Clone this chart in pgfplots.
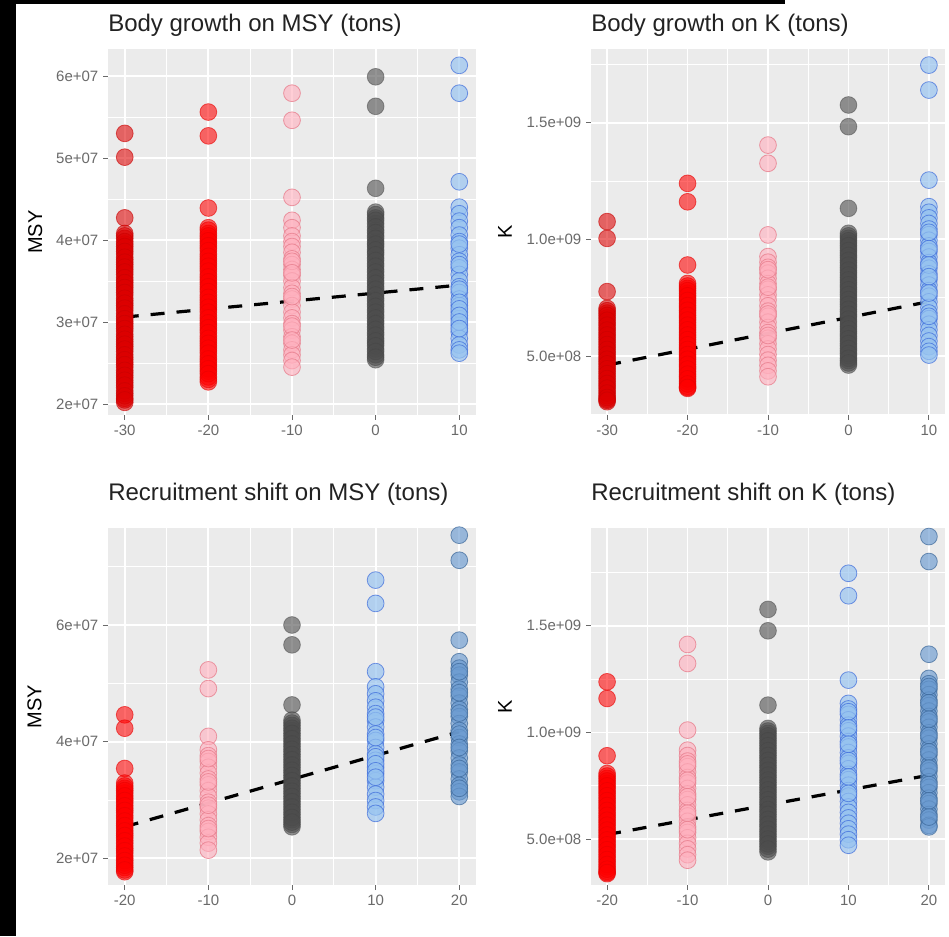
\documentclass[border=0pt]{standalone}
\usepackage{pgfplots}
\pgfplotsset{compat=1.18}
\usepackage{fontspec}
\setmainfont{Liberation Sans}
\definecolor{ggbg}{HTML}{EBEBEB}
\definecolor{tickgrey}{HTML}{6A6A6A}
\definecolor{titlegrey}{HTML}{222222}
\definecolor{redAF}{HTML}{DD0000}
\definecolor{redAL}{HTML}{C80000}
\definecolor{redBF}{HTML}{FF0000}
\definecolor{redBL}{HTML}{E80000}
\definecolor{pinkF}{HTML}{FFB0BE}
\definecolor{pinkL}{HTML}{E8808F}
\definecolor{greyF}{HTML}{4D4D4D}
\definecolor{greyL}{HTML}{454545}
\definecolor{lblueF}{HTML}{96C3F0}
\definecolor{lblueL}{HTML}{3D6BDB}
\definecolor{sblueF}{HTML}{6A9AD0}
\definecolor{sblueL}{HTML}{3B6799}
\pgfplotsset{
  ggpanel/.style={
    scale only axis, anchor=south west,
    axis background/.style={fill=ggbg},
    axis line style={draw=none},
    tick pos=left, tick align=outside,
    major tick length=3.75pt, minor tick length=0pt,
    tick style={color=tickgrey, line width=0.7pt},
    grid=both,
    major grid style={white, line width=1.4pt},
    minor grid style={white, line width=0.7pt},
    scaled ticks=false,
    tick label style={font=\fontsize{11.25}{13}\selectfont, text=tickgrey},
    every axis title/.style={at={(axis description cs:0,1)}, anchor=base west, inner sep=0pt, font=\fontsize{18}{21}\selectfont, text=titlegrey},
    clip=false,
  },
  grpA/.style={only marks, mark=*, mark size=6.3pt, mark options={fill=redAF, fill opacity=0.58, draw=redAL, draw opacity=0.6, line width=0.6pt}},
  grpB/.style={only marks, mark=*, mark size=6.3pt, mark options={fill=redBF, fill opacity=0.58, draw=redBL, draw opacity=0.6, line width=0.6pt}},
  grpP/.style={only marks, mark=*, mark size=6.3pt, mark options={fill=pinkF, fill opacity=0.62, draw=pinkL, draw opacity=0.8, line width=0.6pt}},
  grpG/.style={only marks, mark=*, mark size=6.3pt, mark options={fill=greyF, fill opacity=0.6, draw=greyL, draw opacity=0.5, line width=0.6pt}},
  grpL/.style={only marks, mark=*, mark size=6.3pt, mark options={fill=lblueF, fill opacity=0.68, draw=lblueL, draw opacity=0.7, line width=0.6pt}},
  grpS/.style={only marks, mark=*, mark size=6.3pt, mark options={fill=sblueF, fill opacity=0.65, draw=sblueL, draw opacity=0.7, line width=0.6pt}},
  trend/.style={black, line width=2.4pt, dash pattern=on 10.5pt off 9pt, no marks},
  ylab/.style={every axis y label/.style={at={(axis description cs:#1,0.5)}, rotate=90, anchor=center, font=\fontsize{15}{17}\selectfont, text=black}},
}
\begin{document}
\begin{tikzpicture}[x=1pt,y=1pt]
\fill[white] (0,0) rectangle (711.75,702);
\fill[black] (0,0) rectangle (12,702);
\fill[black] (0,699) rectangle (588.75,702);

% ---------- Panel 1: Body growth on MSY ----------
\begin{axis}[ggpanel, at={(81pt,390.75pt)}, width=276pt, height=274.5pt,
  xmin=-32, xmax=12, ymin=1.866e7, ymax=6.329e7,
  xtick={-30,-20,-10,0,10}, xticklabels={-30,-20,-10,0,10},
  minor xtick={-25,-15,-5,5},
  ytick={2e7,3e7,4e7,5e7,6e7}, yticklabels={2e+07,3e+07,4e+07,5e+07,6e+07},
  minor ytick={2.5e7,3.5e7,4.5e7,5.5e7},
  title={Body growth on MSY (tons)}, title style={yshift=12.75pt},
  ylabel={MSY}, ylab=-0.198]
\addplot[grpA] coordinates {(-30,5.30e7) (-30,5.01e7) (-30,4.27e7) (-30,4.08e7) (-30,4.02e7) (-30,3.95e7) (-30,3.89e7) (-30,3.83e7) (-30,3.76e7) (-30,3.70e7) (-30,3.64e7) (-30,3.58e7) (-30,3.51e7) (-30,3.45e7) (-30,3.39e7) (-30,3.33e7) (-30,3.26e7) (-30,3.20e7) (-30,3.14e7) (-30,3.07e7) (-30,3.01e7) (-30,2.95e7) (-30,2.89e7) (-30,2.82e7) (-30,2.76e7) (-30,2.70e7) (-30,2.64e7) (-30,2.57e7) (-30,2.51e7) (-30,2.45e7) (-30,2.38e7) (-30,2.32e7) (-30,2.26e7) (-30,2.20e7) (-30,2.13e7) (-30,2.07e7) (-30,2.02e7)};
\addplot[grpA] coordinates {(-30,4.05e7) (-30,3.98e7) (-30,3.92e7) (-30,3.86e7) (-30,3.79e7) (-30,3.73e7) (-30,3.67e7) (-30,3.61e7) (-30,3.54e7) (-30,3.48e7) (-30,3.42e7) (-30,3.36e7) (-30,3.29e7) (-30,3.23e7) (-30,3.17e7) (-30,3.10e7) (-30,3.04e7) (-30,2.98e7) (-30,2.92e7) (-30,2.85e7) (-30,2.79e7) (-30,2.73e7) (-30,2.67e7) (-30,2.60e7) (-30,2.54e7) (-30,2.48e7) (-30,2.41e7) (-30,2.35e7) (-30,2.29e7) (-30,2.23e7) (-30,2.16e7) (-30,2.10e7) (-30,2.05e7)};
\addplot[grpB] coordinates {(-20,5.56e7) (-20,5.27e7) (-20,4.39e7) (-20,4.15e7) (-20,4.08e7) (-20,4.02e7) (-20,3.96e7) (-20,3.90e7) (-20,3.83e7) (-20,3.77e7) (-20,3.71e7) (-20,3.65e7) (-20,3.58e7) (-20,3.52e7) (-20,3.46e7) (-20,3.40e7) (-20,3.33e7) (-20,3.27e7) (-20,3.21e7) (-20,3.15e7) (-20,3.08e7) (-20,3.02e7) (-20,2.96e7) (-20,2.90e7) (-20,2.83e7) (-20,2.77e7) (-20,2.71e7) (-20,2.65e7) (-20,2.58e7) (-20,2.52e7) (-20,2.46e7) (-20,2.40e7) (-20,2.33e7) (-20,2.27e7)};
\addplot[grpB] coordinates {(-20,4.12e7) (-20,4.05e7) (-20,3.99e7) (-20,3.93e7) (-20,3.87e7) (-20,3.80e7) (-20,3.74e7) (-20,3.68e7) (-20,3.62e7) (-20,3.55e7) (-20,3.49e7) (-20,3.43e7) (-20,3.37e7) (-20,3.30e7) (-20,3.24e7) (-20,3.18e7) (-20,3.12e7) (-20,3.05e7) (-20,2.99e7) (-20,2.93e7) (-20,2.87e7) (-20,2.80e7) (-20,2.74e7) (-20,2.68e7) (-20,2.62e7) (-20,2.55e7) (-20,2.49e7) (-20,2.43e7) (-20,2.37e7) (-20,2.30e7)};
\addplot[grpP] coordinates {(-10,5.79e7) (-10,5.46e7) (-10,4.52e7) (-10,4.24e7) (-10,4.15e7) (-10,4.05e7) (-10,3.98e7) (-10,3.92e7) (-10,3.85e7) (-10,3.77e7) (-10,3.70e7) (-10,3.64e7) (-10,3.57e7) (-10,3.50e7) (-10,3.42e7) (-10,3.35e7) (-10,3.28e7) (-10,3.20e7) (-10,3.12e7) (-10,3.05e7) (-10,2.98e7) (-10,2.90e7) (-10,2.82e7) (-10,2.74e7) (-10,2.66e7) (-10,2.60e7) (-10,2.53e7) (-10,2.45e7) (-10,3.74e7) (-10,3.60e7) (-10,3.31e7) (-10,2.95e7) (-10,2.78e7)};
\addplot[grpG] coordinates {(0,5.99e7) (0,5.63e7) (0,4.63e7) (0,4.34e7) (0,4.27e7) (0,4.20e7) (0,4.12e7) (0,4.05e7) (0,3.98e7) (0,3.92e7) (0,3.85e7) (0,3.78e7) (0,3.71e7) (0,3.64e7) (0,3.57e7) (0,3.50e7) (0,3.43e7) (0,3.36e7) (0,3.29e7) (0,3.22e7) (0,3.15e7) (0,3.08e7) (0,3.01e7) (0,2.94e7) (0,2.87e7) (0,2.80e7) (0,2.74e7) (0,2.67e7) (0,2.60e7) (0,2.54e7)};
\addplot[grpG] coordinates {(0,4.31e7) (0,4.24e7) (0,4.16e7) (0,4.09e7) (0,4.02e7) (0,3.95e7) (0,3.88e7) (0,3.82e7) (0,3.75e7) (0,3.68e7) (0,3.61e7) (0,3.54e7) (0,3.47e7) (0,3.40e7) (0,3.33e7) (0,3.26e7) (0,3.19e7) (0,3.12e7) (0,3.05e7) (0,2.98e7) (0,2.91e7) (0,2.84e7) (0,2.77e7) (0,2.71e7) (0,2.64e7) (0,2.57e7)};
\addplot[grpL] coordinates {(10,6.13e7) (10,5.79e7) (10,4.71e7) (10,4.40e7) (10,4.32e7) (10,4.23e7) (10,4.15e7) (10,4.06e7) (10,3.98e7) (10,3.90e7) (10,3.82e7) (10,3.74e7) (10,3.66e7) (10,3.58e7) (10,3.50e7) (10,3.43e7) (10,3.36e7) (10,3.28e7) (10,3.20e7) (10,3.12e7) (10,3.04e7) (10,2.96e7) (10,2.88e7) (10,2.80e7) (10,2.72e7) (10,2.66e7) (10,2.62e7) (10,3.95e7) (10,3.70e7) (10,3.40e7) (10,3.24e7) (10,3.16e7) (10,3.08e7) (10,3.00e7) (10,2.92e7)};
\addplot[trend] coordinates {(-30,3.06e7) (10,3.45e7)};
\end{axis}

% ---------- Panel 2: Body growth on K ----------
\begin{axis}[ggpanel, at={(443.25pt,390.75pt)}, width=265.5pt, height=274.5pt,
  xmin=-32, xmax=12, ymin=2.47e8, ymax=1.816e9,
  xtick={-30,-20,-10,0,10}, xticklabels={-30,-20,-10,0,10},
  minor xtick={-25,-15,-5,5},
  ytick={5e8,1e9,1.5e9}, yticklabels={5.0e+08,1.0e+09,1.5e+09},
  minor ytick={2.5e8,7.5e8,1.25e9,1.75e9},
  title={Body growth on K (tons)}, title style={yshift=12.75pt},
  ylabel={K}, ylab=-0.243]
\addplot[grpA] coordinates {(-30,10.76e8) (-30,10.04e8) (-30,7.76e8) (-30,7.04e8) (-30,6.84e8) (-30,6.63e8) (-30,6.42e8) (-30,6.21e8) (-30,6.00e8) (-30,5.80e8) (-30,5.59e8) (-30,5.38e8) (-30,5.17e8) (-30,4.96e8) (-30,4.76e8) (-30,4.55e8) (-30,4.34e8) (-30,4.13e8) (-30,3.92e8) (-30,3.72e8) (-30,3.51e8) (-30,3.30e8) (-30,3.15e8) (-30,3.04e8)};
\addplot[grpA] coordinates {(-30,6.94e8) (-30,6.74e8) (-30,6.53e8) (-30,6.32e8) (-30,6.11e8) (-30,5.90e8) (-30,5.70e8) (-30,5.49e8) (-30,5.28e8) (-30,5.07e8) (-30,4.86e8) (-30,4.66e8) (-30,4.45e8) (-30,4.24e8) (-30,4.03e8) (-30,3.82e8) (-30,3.62e8) (-30,3.41e8) (-30,3.22e8) (-30,3.10e8)};
\addplot[grpB] coordinates {(-20,12.40e8) (-20,11.61e8) (-20,8.90e8) (-20,8.11e8) (-20,7.90e8) (-20,7.69e8) (-20,7.48e8) (-20,7.27e8) (-20,7.06e8) (-20,6.85e8) (-20,6.64e8) (-20,6.43e8) (-20,6.22e8) (-20,6.01e8) (-20,5.80e8) (-20,5.59e8) (-20,5.38e8) (-20,5.17e8) (-20,4.96e8) (-20,4.75e8) (-20,4.54e8) (-20,4.33e8) (-20,4.12e8) (-20,3.91e8) (-20,3.70e8) (-20,3.61e8)};
\addplot[grpB] coordinates {(-20,8.00e8) (-20,7.80e8) (-20,7.58e8) (-20,7.38e8) (-20,7.16e8) (-20,6.96e8) (-20,6.74e8) (-20,6.54e8) (-20,6.32e8) (-20,6.12e8) (-20,5.90e8) (-20,5.70e8) (-20,5.48e8) (-20,5.28e8) (-20,5.06e8) (-20,4.86e8) (-20,4.64e8) (-20,4.44e8) (-20,4.22e8) (-20,4.02e8) (-20,3.80e8) (-20,3.65e8)};
\addplot[grpP] coordinates {(-10,14.04e8) (-10,13.26e8) (-10,10.19e8) (-10,9.26e8) (-10,9.02e8) (-10,8.80e8) (-10,8.55e8) (-10,8.33e8) (-10,8.10e8) (-10,7.86e8) (-10,7.62e8) (-10,7.40e8) (-10,7.15e8) (-10,6.92e8) (-10,6.70e8) (-10,6.45e8) (-10,6.22e8) (-10,6.00e8) (-10,5.76e8) (-10,5.52e8) (-10,5.30e8) (-10,5.06e8) (-10,4.82e8) (-10,4.60e8) (-10,4.36e8) (-10,4.11e8) (-10,8.70e8) (-10,7.95e8) (-10,6.80e8) (-10,5.88e8)};
\addplot[grpG] coordinates {(0,15.76e8) (0,14.83e8) (0,11.33e8) (0,10.26e8) (0,10.05e8) (0,9.84e8) (0,9.63e8) (0,9.42e8) (0,9.21e8) (0,9.00e8) (0,8.79e8) (0,8.58e8) (0,8.37e8) (0,8.16e8) (0,7.95e8) (0,7.74e8) (0,7.53e8) (0,7.32e8) (0,7.11e8) (0,6.90e8) (0,6.69e8) (0,6.48e8) (0,6.27e8) (0,6.06e8) (0,5.85e8) (0,5.64e8) (0,5.43e8) (0,5.22e8) (0,5.01e8) (0,4.80e8) (0,4.61e8)};
\addplot[grpG] coordinates {(0,10.15e8) (0,9.94e8) (0,9.73e8) (0,9.52e8) (0,9.31e8) (0,9.10e8) (0,8.89e8) (0,8.68e8) (0,8.47e8) (0,8.26e8) (0,8.05e8) (0,7.84e8) (0,7.63e8) (0,7.42e8) (0,7.21e8) (0,7.00e8) (0,6.79e8) (0,6.58e8) (0,6.37e8) (0,6.16e8) (0,5.95e8) (0,5.74e8) (0,5.53e8) (0,5.32e8) (0,5.11e8) (0,4.90e8) (0,4.70e8)};
\addplot[grpL] coordinates {(10,17.47e8) (10,16.40e8) (10,12.54e8) (10,11.40e8) (10,11.16e8) (10,10.92e8) (10,10.68e8) (10,10.44e8) (10,10.20e8) (10,9.96e8) (10,9.72e8) (10,9.48e8) (10,9.24e8) (10,9.00e8) (10,8.76e8) (10,8.52e8) (10,8.28e8) (10,8.04e8) (10,7.80e8) (10,7.56e8) (10,7.32e8) (10,7.08e8) (10,6.84e8) (10,6.60e8) (10,6.36e8) (10,6.12e8) (10,5.88e8) (10,5.64e8) (10,5.40e8) (10,5.20e8) (10,5.04e8) (10,10.30e8) (10,9.60e8) (10,8.90e8) (10,8.40e8) (10,7.70e8) (10,6.70e8)};
\addplot[trend] coordinates {(-30,4.61e8) (10,7.33e8)};
\end{axis}

% ---------- Panel 3: Recruitment shift on MSY ----------
\begin{axis}[ggpanel, at={(81pt,38.25pt)}, width=276pt, height=267.75pt,
  xmin=-22, xmax=22, ymin=1.542e7, ymax=7.663e7,
  xtick={-20,-10,0,10,20}, xticklabels={-20,-10,0,10,20},
  minor xtick={-15,-5,5,15},
  ytick={2e7,4e7,6e7}, yticklabels={2e+07,4e+07,6e+07},
  minor ytick={3e7,5e7,7e7},
  title={Recruitment shift on MSY (tons)}, title style={yshift=21pt},
  ylabel={MSY}, ylab=-0.2]
\addplot[grpB] coordinates {(-20,4.46e7) (-20,4.23e7) (-20,3.54e7) (-20,3.29e7) (-20,3.20e7) (-20,3.12e7) (-20,3.03e7) (-20,2.95e7) (-20,2.86e7) (-20,2.78e7) (-20,2.69e7) (-20,2.60e7) (-20,2.52e7) (-20,2.43e7) (-20,2.35e7) (-20,2.26e7) (-20,2.17e7) (-20,2.09e7) (-20,2.00e7) (-20,1.92e7) (-20,1.84e7) (-20,1.77e7)};
\addplot[grpB] coordinates {(-20,3.24e7) (-20,3.16e7) (-20,3.07e7) (-20,2.99e7) (-20,2.90e7) (-20,2.82e7) (-20,2.73e7) (-20,2.64e7) (-20,2.56e7) (-20,2.47e7) (-20,2.39e7) (-20,2.30e7) (-20,2.21e7) (-20,2.13e7) (-20,2.04e7) (-20,1.96e7) (-20,1.88e7) (-20,1.80e7)};
\addplot[grpP] coordinates {(-10,5.23e7) (-10,4.91e7) (-10,4.09e7) (-10,3.86e7) (-10,3.76e7) (-10,3.66e7) (-10,3.56e7) (-10,3.46e7) (-10,3.36e7) (-10,3.26e7) (-10,3.16e7) (-10,3.06e7) (-10,2.96e7) (-10,2.86e7) (-10,2.76e7) (-10,2.66e7) (-10,2.56e7) (-10,2.46e7) (-10,2.36e7) (-10,2.26e7) (-10,2.14e7) (-10,3.71e7) (-10,3.31e7) (-10,2.91e7) (-10,2.51e7)};
\addplot[grpG] coordinates {(0,6.00e7) (0,5.66e7) (0,4.63e7) (0,4.37e7) (0,4.28e7) (0,4.19e7) (0,4.10e7) (0,4.01e7) (0,3.92e7) (0,3.83e7) (0,3.74e7) (0,3.65e7) (0,3.56e7) (0,3.47e7) (0,3.38e7) (0,3.29e7) (0,3.20e7) (0,3.11e7) (0,3.02e7) (0,2.93e7) (0,2.84e7) (0,2.75e7) (0,2.66e7) (0,2.58e7) (0,2.54e7)};
\addplot[grpG] coordinates {(0,4.32e7) (0,4.23e7) (0,4.14e7) (0,4.05e7) (0,3.96e7) (0,3.87e7) (0,3.78e7) (0,3.69e7) (0,3.60e7) (0,3.51e7) (0,3.42e7) (0,3.33e7) (0,3.24e7) (0,3.15e7) (0,3.06e7) (0,2.97e7) (0,2.88e7) (0,2.79e7) (0,2.70e7) (0,2.62e7)};
\addplot[grpL] coordinates {(10,6.77e7) (10,6.37e7) (10,5.20e7) (10,4.94e7) (10,4.82e7) (10,4.70e7) (10,4.59e7) (10,4.48e7) (10,4.36e7) (10,4.25e7) (10,4.13e7) (10,4.02e7) (10,3.90e7) (10,3.79e7) (10,3.68e7) (10,3.56e7) (10,3.45e7) (10,3.33e7) (10,3.22e7) (10,3.10e7) (10,2.99e7) (10,2.88e7) (10,2.77e7) (10,4.42e7) (10,4.07e7) (10,3.74e7) (10,3.62e7) (10,3.50e7) (10,3.39e7)};
\addplot[grpS] coordinates {(20,7.54e7) (20,7.11e7) (20,5.74e7) (20,5.37e7) (20,5.26e7) (20,5.14e7) (20,5.02e7) (20,4.90e7) (20,4.78e7) (20,4.66e7) (20,4.55e7) (20,4.43e7) (20,4.31e7) (20,4.19e7) (20,4.07e7) (20,3.96e7) (20,3.84e7) (20,3.72e7) (20,3.60e7) (20,3.48e7) (20,3.36e7) (20,3.25e7) (20,3.14e7) (20,3.06e7) (20,5.20e7) (20,4.84e7) (20,4.49e7) (20,4.13e7) (20,3.90e7) (20,3.54e7) (20,3.20e7)};
\addplot[trend] coordinates {(-20,2.54e7) (20,4.17e7)};
\end{axis}

% ---------- Panel 4: Recruitment shift on K ----------
\begin{axis}[ggpanel, at={(443.25pt,38.25pt)}, width=265.5pt, height=267.75pt,
  xmin=-22, xmax=22, ymin=2.86e8, ymax=1.957e9,
  xtick={-20,-10,0,10,20}, xticklabels={-20,-10,0,10,20},
  minor xtick={-15,-5,5,15},
  ytick={5e8,1e9,1.5e9}, yticklabels={5.0e+08,1.0e+09,1.5e+09},
  minor ytick={7.5e8,1.25e9,1.75e9},
  title={Recruitment shift on K (tons)}, title style={yshift=21pt},
  ylabel={K}, ylab=-0.243]
\addplot[grpB] coordinates {(-20,12.37e8) (-20,11.59e8) (-20,8.91e8) (-20,8.08e8) (-20,7.85e8) (-20,7.62e8) (-20,7.39e8) (-20,7.16e8) (-20,6.93e8) (-20,6.70e8) (-20,6.47e8) (-20,6.24e8) (-20,6.01e8) (-20,5.78e8) (-20,5.55e8) (-20,5.32e8) (-20,5.09e8) (-20,4.86e8) (-20,4.63e8) (-20,4.40e8) (-20,4.17e8) (-20,3.94e8) (-20,3.71e8) (-20,3.50e8) (-20,3.39e8)};
\addplot[grpB] coordinates {(-20,7.96e8) (-20,7.73e8) (-20,7.50e8) (-20,7.27e8) (-20,7.04e8) (-20,6.81e8) (-20,6.58e8) (-20,6.35e8) (-20,6.12e8) (-20,5.89e8) (-20,5.66e8) (-20,5.43e8) (-20,5.20e8) (-20,4.97e8) (-20,4.74e8) (-20,4.51e8) (-20,4.28e8) (-20,4.05e8) (-20,3.82e8) (-20,3.60e8) (-20,3.44e8)};
\addplot[grpP] coordinates {(-10,14.12e8) (-10,13.23e8) (-10,10.11e8) (-10,9.17e8) (-10,8.92e8) (-10,8.66e8) (-10,8.40e8) (-10,8.15e8) (-10,7.89e8) (-10,7.63e8) (-10,7.38e8) (-10,7.12e8) (-10,6.86e8) (-10,6.61e8) (-10,6.35e8) (-10,6.09e8) (-10,5.84e8) (-10,5.58e8) (-10,5.32e8) (-10,5.07e8) (-10,4.81e8) (-10,4.55e8) (-10,4.28e8) (-10,4.02e8) (-10,8.53e8) (-10,7.76e8) (-10,6.99e8) (-10,6.22e8) (-10,5.45e8)};
\addplot[grpG] coordinates {(0,15.76e8) (0,14.76e8) (0,11.28e8) (0,10.19e8) (0,9.96e8) (0,9.73e8) (0,9.50e8) (0,9.27e8) (0,9.04e8) (0,8.81e8) (0,8.58e8) (0,8.35e8) (0,8.12e8) (0,7.89e8) (0,7.66e8) (0,7.43e8) (0,7.20e8) (0,6.97e8) (0,6.74e8) (0,6.51e8) (0,6.28e8) (0,6.05e8) (0,5.82e8) (0,5.59e8) (0,5.36e8) (0,5.13e8) (0,4.90e8) (0,4.67e8) (0,4.41e8)};
\addplot[grpG] coordinates {(0,10.07e8) (0,9.84e8) (0,9.61e8) (0,9.38e8) (0,9.15e8) (0,8.92e8) (0,8.69e8) (0,8.46e8) (0,8.23e8) (0,8.00e8) (0,7.77e8) (0,7.54e8) (0,7.31e8) (0,7.08e8) (0,6.85e8) (0,6.62e8) (0,6.39e8) (0,6.16e8) (0,5.93e8) (0,5.70e8) (0,5.47e8) (0,5.24e8) (0,5.01e8) (0,4.78e8) (0,4.54e8)};
\addplot[grpL] coordinates {(10,17.45e8) (10,16.40e8) (10,12.45e8) (10,11.36e8) (10,11.10e8) (10,10.85e8) (10,10.59e8) (10,10.34e8) (10,10.08e8) (10,9.83e8) (10,9.57e8) (10,9.32e8) (10,9.06e8) (10,8.81e8) (10,8.55e8) (10,8.30e8) (10,8.04e8) (10,7.79e8) (10,7.53e8) (10,7.28e8) (10,7.02e8) (10,6.77e8) (10,6.51e8) (10,6.26e8) (10,6.00e8) (10,5.75e8) (10,5.49e8) (10,5.24e8) (10,4.98e8) (10,4.72e8) (10,10.97e8) (10,10.21e8) (10,9.45e8) (10,8.68e8) (10,7.92e8) (10,7.15e8)};
\addplot[grpS] coordinates {(20,19.17e8) (20,18.00e8) (20,13.66e8) (20,12.53e8) (20,12.28e8) (20,12.02e8) (20,11.77e8) (20,11.51e8) (20,11.26e8) (20,11.00e8) (20,10.75e8) (20,10.49e8) (20,10.24e8) (20,9.98e8) (20,9.73e8) (20,9.47e8) (20,9.22e8) (20,8.96e8) (20,8.71e8) (20,8.45e8) (20,8.20e8) (20,7.94e8) (20,7.69e8) (20,7.43e8) (20,7.18e8) (20,6.92e8) (20,6.67e8) (20,6.41e8) (20,6.16e8) (20,5.90e8) (20,5.65e8) (20,5.58e8) (20,12.15e8) (20,11.39e8) (20,10.62e8) (20,9.86e8) (20,9.09e8) (20,8.33e8) (20,7.56e8) (20,6.80e8) (20,6.04e8)};
\addplot[trend] coordinates {(-20,5.22e8) (20,8.00e8)};
\end{axis}
\end{tikzpicture}
\end{document}
